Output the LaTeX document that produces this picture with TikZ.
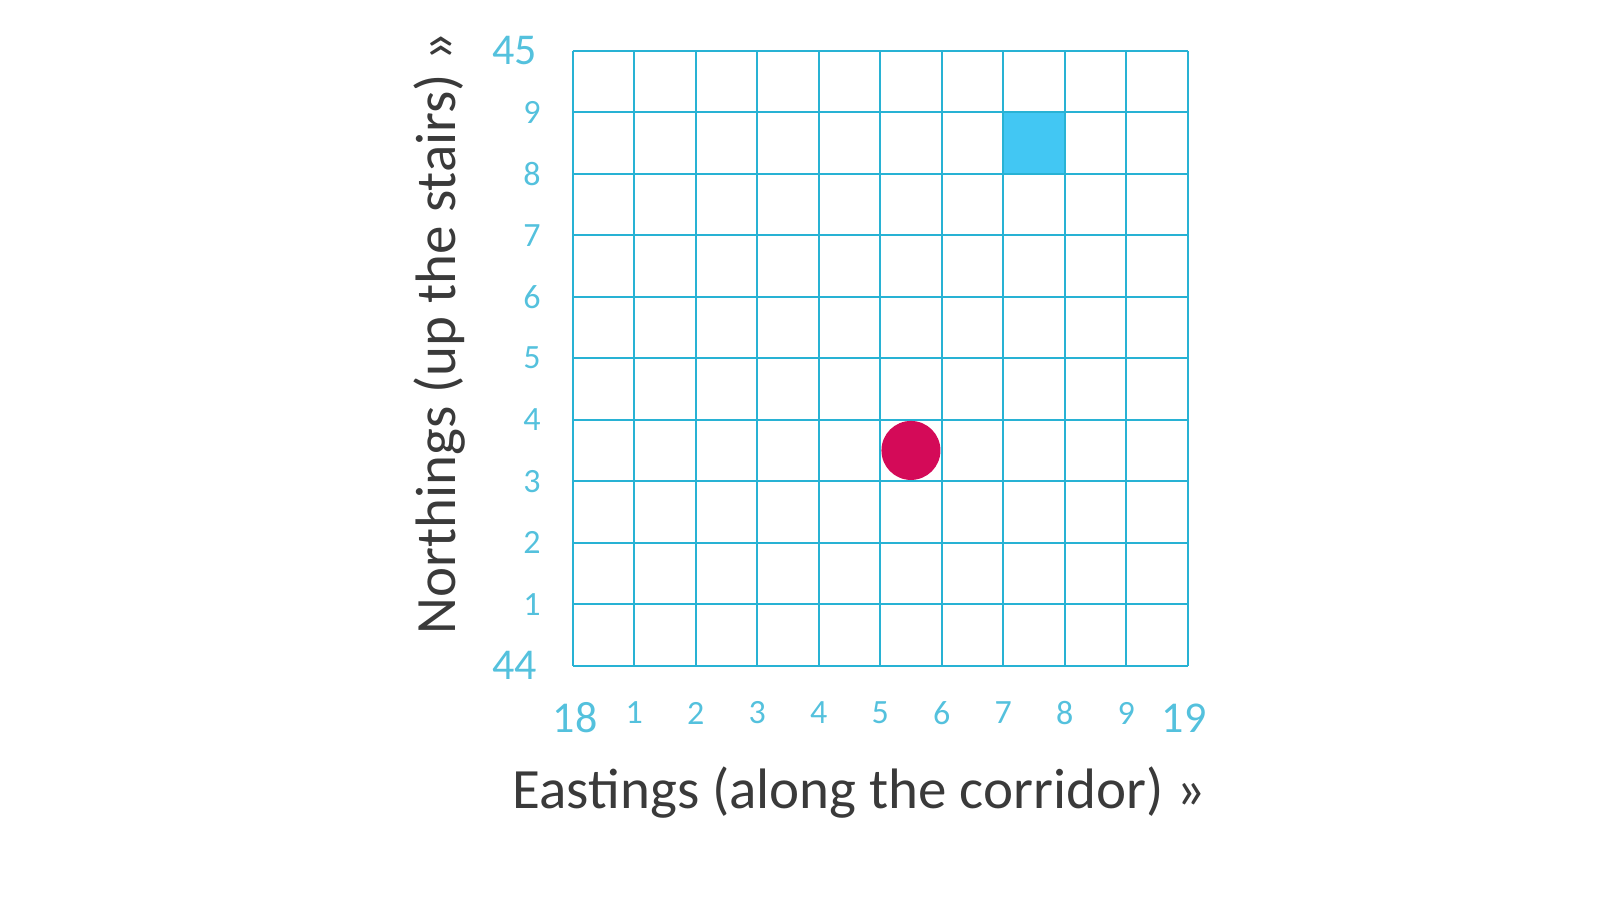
\documentclass[tikz,border=0pt]{standalone}
\usepackage{fontspec}
\setmainfont{Carlito}
\usepackage{tikz}
\definecolor{gridblue}{RGB}{40,178,212}
\definecolor{labelblue}{RGB}{84,193,221}
\definecolor{squareblue}{RGB}{66,199,243}
\definecolor{dotred}{RGB}{212,10,88}
\definecolor{titlegray}{RGB}{58,58,58}

\begin{document}
\begin{tikzpicture}
  [x=61.5pt,y=61.5pt,
   small/.style={text=labelblue,font=\fontsize{34}{34}\selectfont},
   big/.style={text=labelblue,font=\fontsize{44}{44}\selectfont},
   title/.style={text=titlegray,font=\fontsize{57}{57}\selectfont}]
  \useasboundingbox (-9.312,-4.005) rectangle (17.029,10.824);
  \fill[squareblue] (7,8) rectangle (8,9);
  \draw[gridblue,line width=2.2pt,step={(1,1)}] (0,0) grid (10,10);
  \node[circle,fill=dotred,minimum size=59pt,inner sep=0pt] (dot) at (5.5,3.5) {};

  \node[big] (n45) at (-0.94,10) {45};
  \node[big] (n44) at (-0.94,0) {44};
  \foreach \n in {1,...,9}
    \node[small] (n\n) at (-0.66,\n) {\n};

  \node[big] (e18) at (0.04,-0.85) {18};
  \node[big] (e19) at (9.94,-0.85) {19};
  \foreach \e in {1,...,9}
    \node[small] (e\e) at (\e,-0.77) {\e};

  \node[title] (east) at (4.66,-2.07) {Eastings (along the corridor) »};
  \node[title,rotate=90] (north) at (-2.17,5.41) {Northings (up the stairs) »};
\end{tikzpicture}
\end{document}
